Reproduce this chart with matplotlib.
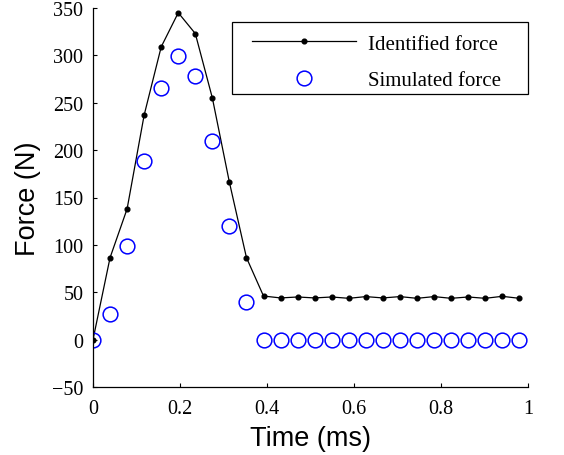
import numpy as np
import matplotlib
matplotlib.use("Agg")
import matplotlib.pyplot as plt
from matplotlib.patches import Rectangle

# --- dati ---
tempo = [0.0, 0.0392, 0.0784, 0.1176, 0.1568, 0.196, 0.2352, 0.2744, 0.3136, 0.3528,
         0.392, 0.4312, 0.4704, 0.5096, 0.5488, 0.588, 0.6272, 0.6664, 0.7056, 0.7448,
         0.784, 0.8232, 0.8624, 0.9016, 0.9408, 0.98]
forza_identificata = [0, 86.5, 138, 237, 309, 345, 323, 255, 166, 86.5,
                      46, 44, 45, 44, 45, 43.6, 45.4, 44, 45.4, 43.6,
                      45.4, 43.6, 45, 43.6, 45.7, 43.6]
forza_simulata = [0, 27, 99, 189, 266, 299, 278, 210, 120, 40,
                  0, 0, 0, 0, 0, 0, 0, 0, 0, 0,
                  0, 0, 0, 0, 0, 0]
xticks = [0, 0.2, 0.4, 0.6, 0.8, 1]
xtick_labels = ["0", "0.2", "0.4", "0.6", "0.8", "1"]
yticks = [-50, 0, 50, 100, 150, 200, 250, 300, 350]

fig = plt.figure(figsize=(5.64, 4.56), dpi=100)
ax = fig.add_axes([93 / 564, 1 - 388 / 456, 435 / 564, 379 / 456])

ax.plot(tempo, forza_identificata, color="black", lw=0.9, marker="o", ms=3.4,
        label="Identified force")
ax.plot(tempo, forza_simulata, ls="none", marker="o", ms=10.6, mfc="none",
        mec="blue", mew=1.1, label="Simulated force")

ax.set_xlim(0, 1)
ax.set_ylim(-50, 350)
ax.set_xticks(xticks)
ax.set_xticklabels(xtick_labels)
ax.set_yticks(yticks)

for s in ["top", "right"]:
    ax.spines[s].set_visible(False)
for s in ["left", "bottom"]:
    ax.spines[s].set_linewidth(0.9)

ax.tick_params(direction="in", length=3, width=0.8, pad=7, top=False, right=False)
ax.tick_params(axis="x", pad=9)
for lab in ax.get_xticklabels() + ax.get_yticklabels():
    lab.set_fontfamily("Liberation Serif")
    lab.set_fontsize(14.5)

ax.set_xlabel("Time (ms)", fontfamily="Liberation Sans", fontsize=19.5, labelpad=5)
ax.set_ylabel("Force (N)", fontfamily="Liberation Sans", fontsize=19.5, labelpad=8)

# cornice della legenda (come in MATLAB)
ax.add_patch(Rectangle((0.3195, 0.773), 0.6805, 0.19, transform=ax.transAxes,
                       fill=True, facecolor="white", edgecolor="black", lw=0.9,
                       zorder=4, clip_on=False))
leg = ax.legend(loc="upper left", bbox_to_anchor=(0.3655, 0.931), frameon=False,
                prop={"family": "Liberation Serif", "size": 15},
                handlelength=5.0, handletextpad=0.55, borderpad=0,
                labelspacing=0.8, borderaxespad=0)
leg.set_zorder(5)

fig.savefig("out.png", dpi=100)
